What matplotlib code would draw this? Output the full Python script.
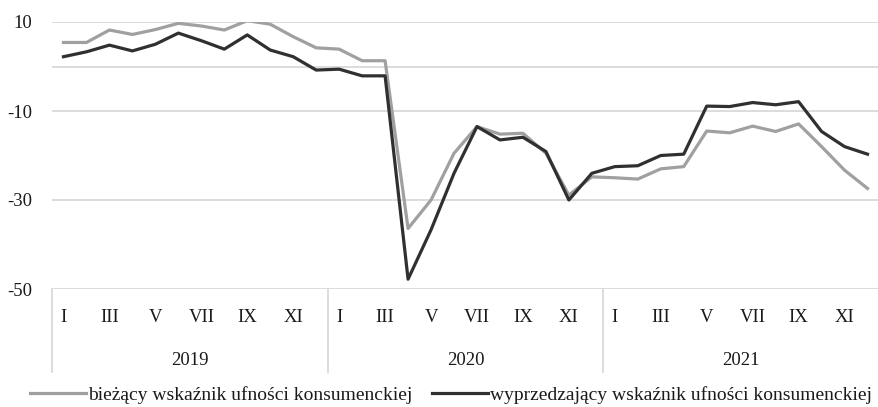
import matplotlib
matplotlib.use('Agg')
import matplotlib.pyplot as plt
import matplotlib.transforms as mtransforms

# Dane (miesiące 2019-2021)
years = ['2019', '2020', '2021']
month_labels = ['I', '', 'III', '', 'V', '', 'VII', '', 'IX', '', 'XI', '']
biezacy = [5.4, 5.4, 8.2, 7.2, 8.3, 9.7, 9.1, 8.2, 10.3, 9.5, 6.7, 4.2,
           3.9, 1.3, 1.3, -36.4, -30.0, -19.5, -13.5, -15.2, -15.0, -19.5, -28.9, -24.8,
           -25.0, -25.3, -23.0, -22.5, -14.5, -14.9, -13.4, -14.6, -12.9, -18.0, -23.3, -27.4]
wyprzedzajacy = [2.2, 3.3, 4.8, 3.5, 5.0, 7.5, 5.8, 3.9, 7.1, 3.7, 2.2, -0.8,
                 -0.6, -2.1, -2.1, -47.8, -36.7, -24.0, -13.5, -16.5, -15.9, -19.1, -30.0, -24.0,
                 -22.5, -22.3, -20.0, -19.7, -8.9, -9.0, -8.1, -8.6, -7.9, -14.6, -18.0, -19.7]
series_names = ['bieżący wskaźnik ufności konsumenckiej',
                'wyprzedzający wskaźnik ufności konsumenckiej']
yticks = [10, -10, -30, -50]

plt.rcParams['font.family'] = ['Liberation Serif', 'DejaVu Serif']
plt.rcParams['font.size'] = 13.5
txt_col = '#1a1a1a'
grid_col = '#d9d9d9'

fig = plt.figure(figsize=(8.79, 4.07), dpi=100)
ax = fig.add_axes([52 / 879, 1 - 289 / 407, 1 - 52 / 879, 267 / 407])

x = list(range(len(biezacy)))
ax.plot(x, biezacy, color='#a0a0a0', lw=2.3, label=series_names[0], zorder=3)
ax.plot(x, wyprzedzajacy, color='#303030', lw=2.3, label=series_names[1], zorder=4)

ax.set_xlim(-0.5, len(x) - 0.5)
ax.set_ylim(-50, 10)
ax.set_yticks(yticks)
ax.set_yticklabels([str(v) for v in yticks], color=txt_col)
ax.tick_params(axis='y', length=0, pad=14)
ax.set_xticks([])
for s in ax.spines.values():
    s.set_visible(False)
for v in yticks:
    ax.axhline(v, color=grid_col, lw=1.3, zorder=1)
ax.axhline(0, color=grid_col, lw=1.3, zorder=1)

# Oś kategorii: miesiące i lata w ramkach
trans = mtransforms.blended_transform_factory(ax.transData, ax.transAxes)
for yi, yr in enumerate(years):
    for mi, lab in enumerate(month_labels):
        if lab:
            ax.text(yi * 12 + mi, -0.105, lab, transform=trans, ha='center', va='center',
                    color=txt_col)
    ax.text(yi * 12 + 5.5, -0.266, yr, transform=trans, ha='center', va='center',
            color=txt_col)
    ax.plot([yi * 12 - 0.5, yi * 12 - 0.5], [0, -0.311], transform=trans,
            color=grid_col, lw=1.3, clip_on=False)

fig.legend(loc='center', bbox_to_anchor=(451 / 879, 12 / 407), ncol=2, frameon=False,
           handlelength=2.9, handletextpad=0.1, columnspacing=1.0, fontsize=14,
           labelcolor=txt_col, borderpad=0)

plt.savefig('out.png', dpi=100)
